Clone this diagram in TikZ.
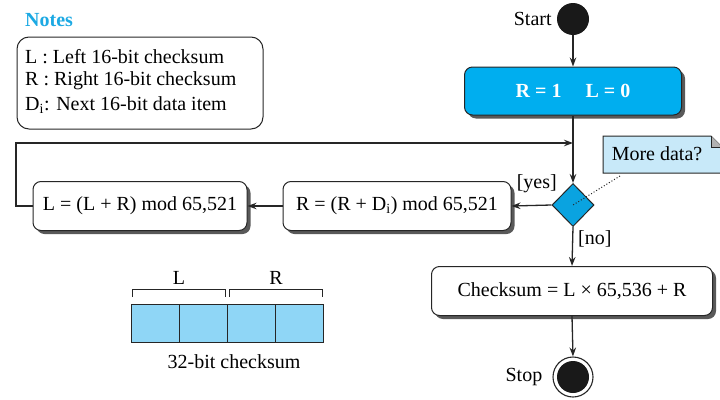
\documentclass[tikz,border=0pt]{standalone}
\usepackage{fontspec}
\setmainfont{Liberation Serif}
\usetikzlibrary{shadows,arrows.meta,shapes.geometric}
\definecolor{cyanA}{HTML}{00AEEF}
\definecolor{cyanD}{HTML}{0AA3E0}
\definecolor{noteblue}{HTML}{C8E9F9}
\definecolor{cellblue}{HTML}{8FD6F6}
\definecolor{titlecyan}{HTML}{1CA9E3}
\newcommand\fsz{\fontsize{20}{23}\selectfont}
\begin{document}
\begin{tikzpicture}[x=1pt,y=-1pt,font=\fsz,
  box/.style={draw=black!85, line width=1pt, rounded corners=8pt, fill=white,
    drop shadow={shadow xshift=3.5pt, shadow yshift=-3.5pt, fill=black!65, opacity=1},
    minimum height=49pt, inner sep=0pt},
  arr/.style={-{Stealth[length=9pt,width=6.5pt]}, line width=1.3pt, draw=black!85},
  lbl/.style={inner sep=0pt, font=\fsz},
  cell/.style={draw=black!85, line width=1pt, fill=cellblue, minimum width=48pt, minimum height=38pt, inner sep=0pt},
  brk/.style={line width=0.9pt, draw=black!85}
]
\useasboundingbox (0,0) rectangle (720,399);

% Notes
\node[lbl, anchor=west, text=titlecyan, font=\fsz\bfseries] (ntitle) at (25,20) {Notes};
\node[draw=black!85, line width=1pt, rounded corners=12pt, minimum width=246pt, minimum height=92pt, inner sep=0pt] (nbox) at (140,83) {};
\node[lbl, anchor=west] (n1) at (25,57) {L : Left 16-bit checksum};
\node[lbl, anchor=west] (n2) at (25,81) {R : Right 16-bit checksum};
\node[lbl, anchor=west] (n3) at (25,105) {D\textsubscript{i}: Next 16-bit data item};

% Start
\node[circle, fill=black!90, minimum size=32pt, inner sep=0pt] (start) at (573,19) {};
\node[lbl, anchor=east] (startlbl) at ([xshift=-5pt]start.west) {Start};

% Init
\node[box, fill=cyanA, minimum width=217pt, minimum height=48pt, text=white, font=\fsz\bfseries] (init) at (573,91) {R = 1\hspace{1.2em}L = 0};

% Decision
\node[diamond, draw=black!85, line width=1pt, fill=cyanD, minimum width=42pt, minimum height=43pt, inner sep=0pt] (dia) at (573,205) {};
\node[lbl, anchor=south east] (yes) at (557,193) {[yes]};
\node[lbl, anchor=west] (no) at (578,239) {[no]};

% Process boxes
\node[box, minimum width=228pt] (rbox) at (397,206) {R = (R + D\textsubscript{i}) mod 65,521};
\node[box, minimum width=214pt] (lbox) at (140,206) {L = (L + R) mod 65,521};
\node[box, minimum width=281pt, minimum height=49pt] (chk) at (572,291) {Checksum = L × 65,536 + R};

% Stop
\node[circle, draw=black!85, line width=1.1pt, minimum size=40pt, inner sep=0pt] (stop) at (573,377) {};
\fill[black!90] (stop.center) circle (16pt);
\node[lbl, anchor=east] (stoplbl) at ([xshift=-10pt]stop.west) {Stop};

% Note
\coordinate (nw) at (603,136);
\coordinate (nf) at (711,136);
\coordinate (nf2) at (722,147);
\coordinate (ne) at (722,173);
\coordinate (ns) at (603,173);
\fill[noteblue] (nw) -- (nf) -- (nf2) -- (ne) -- (ns) -- cycle;
\draw[line width=1pt, black!85] (nf2) -- (ne) -- (ns) -- (nw) -- (nf) -- (nf2);
\fill[black!30] (nf) -- (711,147) -- (nf2) -- cycle;
\draw[line width=0.6pt, black!85] (nf) -- (711,147) -- (nf2);
\node[lbl] (notetxt) at (657,154) {More data?};
\coordinate (notept) at (620,176);
\draw[dotted, line width=1pt, black!85] (notept) -- (dia.center);

% Connectors
\draw[arr] (start) -- (init);
\draw[arr] (init.south) -- (dia.north);
\draw[arr] (dia.west) -- (rbox.east);
\draw[arr] (rbox.west) -- (lbox.east);
\coordinate (loopL) at (16,206);
\coordinate (loopT) at (16,143);
\coordinate (loopE) at (573,143);
\draw[arr] (lbox.west) -- (loopL) -- (loopT) -- (loopE);
\draw[arr] (dia.south) -- (chk.north);
\draw[arr] (chk.south) -- (stop.north);

% 32-bit checksum
\node[cell] (c1) at (155,323) {};
\node[cell] (c2) at (203,323) {};
\node[cell] (c3) at (251.5,323) {};
\node[cell] (c4) at (299.5,323) {};
\draw[brk] (132,297) -- (132,289) -- (225,289) -- (225,297);
\draw[brk] (229,297) -- (229,289) -- (322,289) -- (322,297);
\node[lbl] (Llbl) at (179,278) {L};
\node[lbl] (Rlbl) at (276,278) {R};
\node[lbl] (cap) at (234,362) {32-bit checksum};
\end{tikzpicture}
\end{document}
